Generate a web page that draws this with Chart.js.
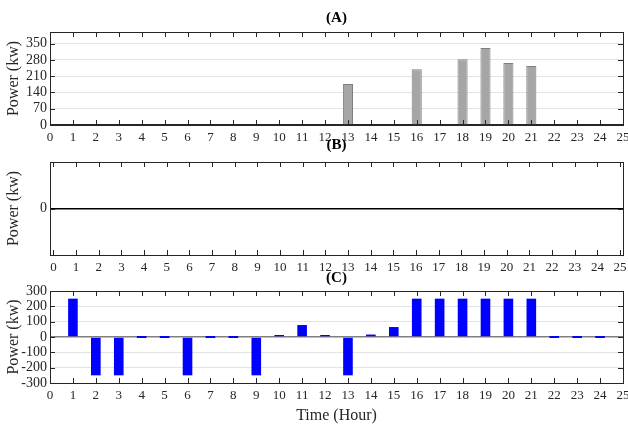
<!DOCTYPE html>
<html>
<head>
<meta charset="utf-8">
<script src="https://cdn.jsdelivr.net/npm/chart.js@4.4.1/dist/chart.umd.min.js"></script>
<style>
  html, body { margin: 0; padding: 0; background: #fff; }
  #wrap { position: relative; width: 628px; height: 426px; }
  #wrap canvas { position: absolute; left: 0; top: 0; }
</style>
</head>
<body>
<div id="wrap">
  <canvas id="chartA" width="628" height="426"></canvas>
  <canvas id="chartB" width="628" height="426"></canvas>
  <canvas id="chartC" width="628" height="426"></canvas>
</div>
<script>
// horas
const hours = [1, 2, 3, 4, 5, 6, 7, 8, 9, 10, 11, 12, 13, 14, 15, 16, 17, 18, 19, 20, 21, 22, 23, 24];
const hourTicks = [0, 1, 2, 3, 4, 5, 6, 7, 8, 9, 10, 11, 12, 13, 14, 15, 16, 17, 18, 19, 20, 21, 22, 23, 24, 25];

// (A)
const powerA = [0, 0, 0, 0, 0, 0, 0, 0, 0, 0, 0, 0, 176, 0, 0, 240, 0, 283, 331, 267, 254, 0, 0, 0];
const ticksA = [0, 70, 140, 210, 280, 350];

// (B)
const powerB = [0, 0, 0, 0, 0, 0, 0, 0, 0, 0, 0, 0, 0, 0, 0, 0, 0, 0, 0, 0, 0, 0, 0, 0];
const ticksB = [0];

// (C)
const powerC = [250, -250, -250, 0, 0, -250, 0, 0, -250, 10, 78, 12, -250, 16, 65, 250, 250, 250, 250, 250, 250, 0, 0, 0];
const ticksC = [-300, -200, -100, 0, 100, 200, 300];

const FONT = "'Liberation Serif', 'Times New Roman', serif";
const INK = '#262626';

Chart.defaults.font.family = FONT;
Chart.defaults.color = INK;

const toPoints = (vals) => vals.map((v, i) => ({ x: hours[i], y: v }));

// Caja tipo MATLAB con marcas hacia dentro y titulo del panel
const boxPlugin = {
  id: 'boxPlugin',
  afterDraw(chart, args, opts) {
    const { ctx, chartArea: a, scales } = chart;
    ctx.save();
    ctx.strokeStyle = INK;
    ctx.lineWidth = 1;
    ctx.beginPath();
    const tl = 5;
    scales.x.ticks.forEach(t => {
      const px = Math.round(scales.x.getPixelForValue(t.value)) + 0.5;
      ctx.moveTo(px, a.top);
      ctx.lineTo(px, a.top + tl);
      ctx.moveTo(px, a.bottom);
      ctx.lineTo(px, a.bottom - tl);
    });
    scales.y.ticks.forEach(t => {
      const py = Math.round(scales.y.getPixelForValue(t.value)) + 0.5;
      ctx.moveTo(a.right, py);
      ctx.lineTo(a.right - tl, py);
      ctx.moveTo(a.left, py);
      ctx.lineTo(a.left + tl, py);
    });
    ctx.stroke();
    ctx.strokeRect(Math.round(a.left) + 0.5, Math.round(a.top) + 0.5,
      Math.round(a.right - a.left), Math.round(a.bottom - a.top));
    // titulo
    ctx.fillStyle = '#000';
    ctx.font = 'bold 15px ' + FONT;
    ctx.textAlign = 'center';
    ctx.textBaseline = 'middle';
    ctx.fillText(opts.text, (a.left + a.right) / 2, a.top - opts.offset);
    ctx.restore();
  }
};

const xAxis = (min, max, height, title) => ({
  type: 'linear',
  min: min,
  max: max,
  offset: false,
  afterBuildTicks: s => { s.ticks = hourTicks.map(v => ({ value: v })); },
  afterFit: s => { s.height = height; s.paddingLeft = 0; s.paddingRight = 0; },
  grid: { display: false, drawTicks: false },
  border: { display: false },
  ticks: { padding: 5, maxRotation: 0, autoSkip: false, font: { size: 13 }, color: INK },
  title: title ? { display: true, text: title, font: { size: 16 }, color: INK, padding: { top: 2, bottom: 1 } } : { display: false }
});

const yAxis = (min, max, tickVals, zeroColor) => ({
  min: min,
  max: max,
  afterBuildTicks: s => { s.ticks = tickVals.map(v => ({ value: v })); },
  afterFit: s => { s.width = 50; s.paddingTop = 0; s.paddingBottom = 0; },
  grid: {
    drawTicks: false,
    color: c => (c.tick && c.tick.value === 0 ? zeroColor : '#e3e3e3'),
    lineWidth: c => (c.tick && c.tick.value === 0 ? 1.5 : 1)
  },
  border: { display: false },
  ticks: { padding: 3, autoSkip: false, font: { size: 14 }, color: INK },
  title: { display: true, text: 'Power (kw)', font: { size: 16 }, color: INK, padding: { top: 4, bottom: 2 } }
});

const baseOptions = (pad, scales, title) => ({
  responsive: false,
  animation: false,
  devicePixelRatio: 1,
  layout: { padding: pad },
  scales: scales,
  plugins: {
    legend: { display: false },
    tooltip: { enabled: false },
    boxPlugin: title
  }
});

// Panel (A)
new Chart(document.getElementById('chartA').getContext('2d'), {
  type: 'bar',
  data: {
    datasets: [{
      data: toPoints(powerA),
      backgroundColor: '#a6a6a6',
      borderColor: '#7f7f7f',
      borderWidth: 1,
      barPercentage: 0.44,
      categoryPercentage: 1
    }]
  },
  options: baseOptions(
    { top: 32, bottom: 276, left: 0, right: 5 },
    { x: xAxis(0, 25, 25), y: yAxis(0, 400, ticksA, '#262626') },
    { text: '(A)', offset: 14 }
  ),
  plugins: [boxPlugin]
});

// Panel (B)
new Chart(document.getElementById('chartB').getContext('2d'), {
  type: 'bar',
  data: {
    datasets: [{
      data: toPoints(powerB),
      backgroundColor: '#000',
      borderWidth: 0,
      barPercentage: 0.44,
      categoryPercentage: 1
    }]
  },
  options: baseOptions(
    { top: 162, bottom: 146, left: 0, right: 5 },
    { x: xAxis(-0.15, 25.13, 25), y: yAxis(-1, 1, ticksB, '#000') },
    { text: '(B)', offset: 17 }
  ),
  plugins: [boxPlugin]
});

// Panel (C)
new Chart(document.getElementById('chartC').getContext('2d'), {
  type: 'bar',
  data: {
    datasets: [{
      data: toPoints(powerC),
      backgroundColor: '#0000ff',
      borderWidth: 0,
      minBarLength: 2,
      barPercentage: 0.42,
      categoryPercentage: 1
    }]
  },
  options: baseOptions(
    { top: 291, bottom: 0, left: 0, right: 5 },
    { x: xAxis(0, 25, 43, 'Time (Hour)'), y: yAxis(-300, 300, ticksC, '#7f7f7f') },
    { text: '(C)', offset: 13 }
  ),
  plugins: [boxPlugin]
});
</script>
</body>
</html>
